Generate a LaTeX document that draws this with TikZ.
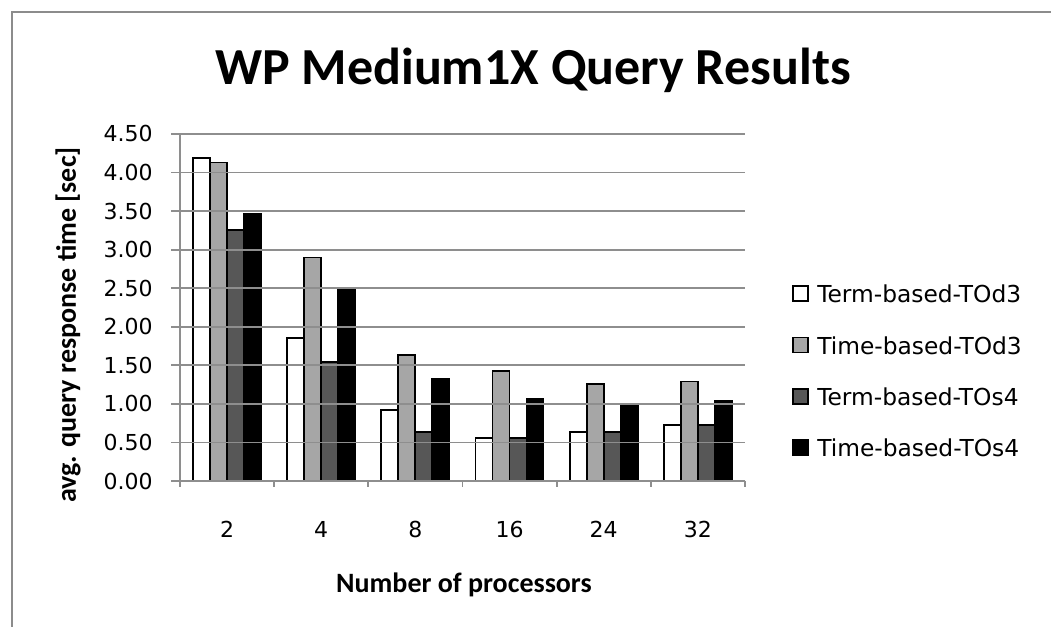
\documentclass[tikz,border=0pt]{standalone}
\usepackage{fontspec}
\setmainfont{Carlito}
\newfontfamily\tickfont{DejaVu Sans}

\definecolor{framegray}{HTML}{8C8C8C}
\definecolor{gridgray}{HTML}{8E8E8E}
\definecolor{barlight}{HTML}{A6A6A6}
\definecolor{bardark}{HTML}{575757}

\tikzset{
  frame/.style={draw=framegray, line width=1.5pt},
  gridline/.style={draw=gridgray, line width=1.3pt},
  bar/.style={draw=black, line width=1.3pt},
  legkey/.style={draw=black, line width=1.2pt},
  titletext/.style={font=\fontsize{39}{46}\selectfont\bfseries, inner sep=0pt},
  axistitle/.style={font=\fontsize{21}{25}\selectfont\bfseries, inner sep=0pt},
  ticklabel/.style={font=\tickfont\fontsize{16.5}{20}\selectfont, inner sep=0pt},
  legtext/.style={font=\tickfont\fontsize{17.5}{21}\selectfont, inner sep=0pt}
}

\begin{document}
\begin{tikzpicture}[x=0.75pt, y=-0.75pt]
  \useasboundingbox (0,0) rectangle (1051,627);

  % Chart frame, only the top and left edges show
  \draw[frame] (12,627) -- (12,12) -- (1051,12);

  % Title
  \node[titletext] (title) at (533,70) {WP Medium1X Query Results};

  % Bars, one group of four per processor count
  % values read off in seconds
  \foreach \g/\a/\b/\c/\d in {0/4.19/4.13/3.26/3.46, 1/1.85/2.90/1.54/2.48,
      2/0.92/1.63/0.64/1.32, 3/0.56/1.43/0.56/1.06,
      4/0.64/1.26/0.64/0.99, 5/0.73/1.29/0.73/1.04} {
    \draw[bar, fill=white] ({193+94.17*\g},481) rectangle ++(17,{-77.1*\a});
    \draw[bar, fill=barlight] ({210+94.17*\g},481) rectangle ++(17,{-77.1*\b});
    \draw[bar, fill=bardark] ({227+94.17*\g},481) rectangle ++(17,{-77.1*\c});
    \draw[bar, fill=black] ({244+94.17*\g},481) rectangle ++(17,{-77.1*\d});
  }

  % Gridlines and value labels
  \foreach \k/\lab in {0/0.00, 1/0.50, 2/1.00, 3/1.50, 4/2.00,
      5/2.50, 6/3.00, 7/3.50, 8/4.00, 9/4.50} {
    \draw[gridline] (171,{481-38.56*\k}) -- (745,{481-38.56*\k});
    \node[ticklabel, anchor=east] (ytick\k) at (153,{481-38.56*\k}) {\lab};
  }
  \draw[gridline] (180,134) -- (180,481);

  % Category ticks and labels
  \foreach \i in {0,...,6}
    \draw[gridline] ({180+94.17*\i},481) -- ++(0,6);
  \foreach \g/\lab in {0/2, 1/4, 2/8, 3/16, 4/24, 5/32}
    \node[ticklabel] (xtick\g) at ({227+94.17*\g},529) {\lab};

  % Axis titles
  \node[axistitle, rotate=90] (ytitle) at (68,325) {avg. query response time [sec]};
  \node[axistitle] (xtitle) at (464,585) {Number of processors};

  % Legend
  \foreach \i/\col/\lab in {0/white/Term-based-TOd3, 1/barlight/Time-based-TOd3,
      2/bardark/Term-based-TOs4, 3/black/Time-based-TOs4} {
    \draw[legkey, fill=\col] (793,{286+51.4*\i}) rectangle ++(15,15);
    \node[legtext, anchor=west] (leg\i) at (817,{294+51.4*\i}) {\lab};
  }
\end{tikzpicture}
\end{document}
